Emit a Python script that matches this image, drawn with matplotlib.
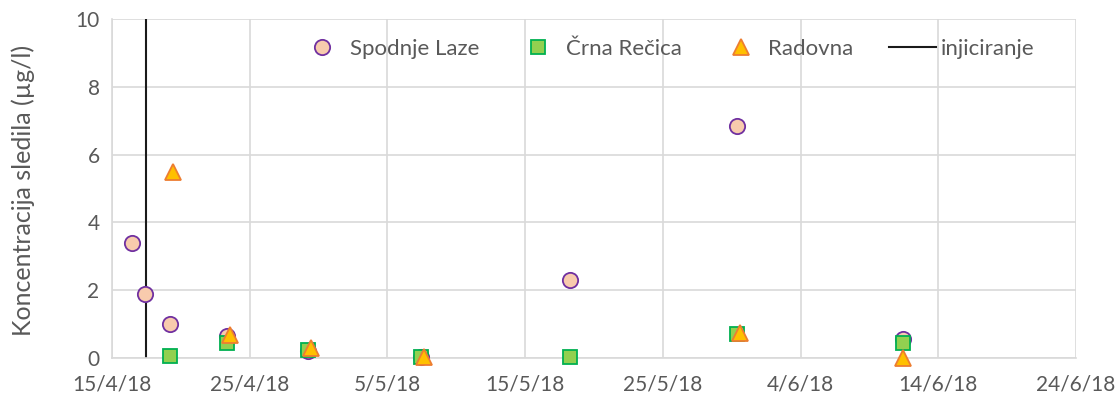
import datetime as dt
import matplotlib.pyplot as plt

plt.rcParams['font.family'] = ['Lato', 'DejaVu Sans']

# Spodnje Laze
sl_dates = ["2018-04-16 11:00", "2018-04-17 10:00", "2018-04-19 05:00", "2018-04-23 08:00",
            "2018-04-29 05:00", "2018-05-07 10:00", "2018-05-18 07:00", "2018-05-30 10:00",
            "2018-06-11 10:00"]
sl_vals = [3.4, 1.9, 1.0, 0.65, 0.22, 0.02, 2.3, 6.85, 0.57]

# Crna Recica
cr_dates = ["2018-04-19 05:00", "2018-04-23 08:00", "2018-04-29 05:00", "2018-05-07 10:00",
            "2018-05-18 07:00", "2018-05-30 10:00", "2018-06-11 10:00"]
cr_vals = [0.06, 0.45, 0.24, 0.03, 0.03, 0.72, 0.45]

# Radovna
ra_dates = ["2018-04-19 10:00", "2018-04-23 14:00", "2018-04-29 10:00", "2018-05-07 15:00",
            "2018-05-30 15:00", "2018-06-11 10:00"]
ra_vals = [5.5, 0.68, 0.3, 0.03, 0.74, 0.0]

inj_date = "2018-04-17 12:00"

def to_dt(lst):
    return [dt.datetime.strptime(s, "%Y-%m-%d %H:%M") for s in lst]

fig = plt.figure(figsize=(11.18, 4), dpi=100)
ax = fig.add_axes([0.1002, 0.105, 0.8622, 0.8475])

ax.plot(to_dt(sl_dates), sl_vals, 'o', ms=11, mfc='#F8CBAD', mec='#7030A0', mew=1.3,
        ls='none', label='Spodnje Laze', zorder=3, clip_on=False)
ax.plot(to_dt(cr_dates), cr_vals, 's', ms=10.5, mfc='#92D050', mec='#00B050', mew=1.3,
        ls='none', label='Črna Rečica', zorder=4, clip_on=False)
ax.plot(to_dt(ra_dates), ra_vals, '^', ms=12, mfc='#FFC000', mec='#ED7D31', mew=1.3,
        ls='none', label='Radovna', zorder=5, clip_on=False)
inj = dt.datetime.strptime(inj_date, "%Y-%m-%d %H:%M")
ax.plot([inj, inj], [0, 10], color='#1a1a1a', lw=1.5, label='injiciranje', zorder=2)

ax.set_xlim(dt.datetime(2018, 4, 15), dt.datetime(2018, 6, 24))
ax.set_ylim(0, 10)
ax.set_yticks([0, 2, 4, 6, 8, 10])
ticks = [dt.datetime(2018, 4, 15) + dt.timedelta(days=10 * i) for i in range(8)]
ax.set_xticks(ticks)
ax.set_xticklabels([f"{t.day}/{t.month}/18" for t in ticks])

ax.grid(True, color='#D9D9D9', lw=1.2)
ax.set_axisbelow(True)
for s in ['top', 'right']:
    ax.spines[s].set_visible(False)
for s in ['bottom', 'left']:
    ax.spines[s].set_color('#D9D9D9')
    ax.spines[s].set_linewidth(1.2)
ax.tick_params(axis='both', length=0, labelsize=15, colors='#595959')
ax.tick_params(axis='y', pad=9)
ax.tick_params(axis='x', pad=12)
ax.set_ylabel('Koncentracija sledila (µg/l)', fontsize=18, color='#595959')
ax.yaxis.set_label_coords(-0.08, 0.495)

leg = ax.legend(loc='center', bbox_to_anchor=(0.575, 0.912), ncol=4, frameon=False,
                fontsize=16, columnspacing=1.6, handlelength=2.1, handletextpad=0.2,
                labelcolor='#595959', borderpad=0)

fig.savefig('out.png', dpi=100)
